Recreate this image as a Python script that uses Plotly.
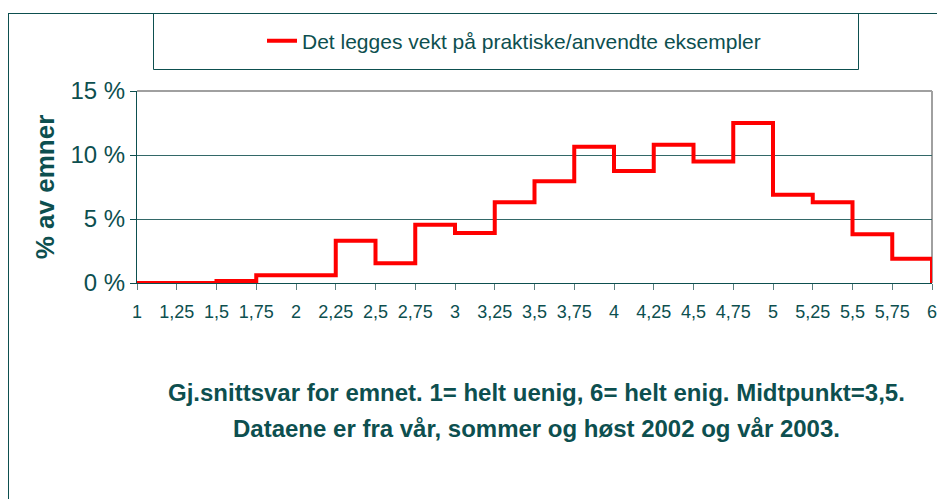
import plotly.graph_objects as go

# average score per subject, bin starts (1-6 scale) and share of subjects in %
bin_start = [1, 1.25, 1.5, 1.75, 2, 2.25, 2.5, 2.75, 3, 3.25,
             3.5, 3.75, 4, 4.25, 4.5, 4.75, 5, 5.25, 5.5, 5.75]
pct = [0, 0, 0.15, 0.6, 0.6, 3.3, 1.55, 4.55, 3.9, 6.3,
       7.95, 10.65, 8.75, 10.8, 9.5, 12.5, 6.9, 6.3, 3.8, 1.9]
x_end = 6

series_name = "Det legges vekt på praktiske/anvendte eksempler"
y_title = "% av emner"
note_lines = ["Gj.snittsvar for emnet. 1= helt uenig, 6= helt enig. Midtpunkt=3,5.",
              "Dataene er fra vår, sommer og høst 2002 og vår 2003."]

TEAL = "#0d4f4f"
GRID = "#336868"
FONT = "Liberation Sans, Arial"

W, H = 937, 499
L, R, T, B = 137, 5, 91, 216
pw, ph = W - L - R, H - T - B


def px(x):  # pixel -> paper x
    return (x - L) / pw


def py(y):  # pixel -> paper y
    return (H - B - y) / ph


fig = go.Figure()
fig.add_trace(go.Scatter(
    x=bin_start + [x_end], y=pct + [0],
    mode="lines", line=dict(color="#ff0000", width=4, shape="hv"),
    name=series_name, showlegend=True, cliponaxis=False,
))

fig.update_layout(
    width=W, height=H,
    margin=dict(l=L, r=R, t=T, b=B, autoexpand=False),
    paper_bgcolor="white", plot_bgcolor="white",
    separators=", ",
    showlegend=True,
    legend=dict(
        x=px(262), y=py(41), xanchor="left", yanchor="middle",
        orientation="h", bgcolor="rgba(0,0,0,0)",
        font=dict(family=FONT, size=21, color=TEAL),
    ),
    xaxis=dict(
        range=[1, 6], dtick=0.25, tick0=1,
        showgrid=False, zeroline=False,
        showline=True, linecolor=TEAL, linewidth=1,
        ticks="outside", ticklen=6, tickcolor="#5a8080",
        ticklabelstandoff=6, ticklabeloverflow="allow",
        tickfont=dict(family=FONT, size=18, color=TEAL),
    ),
    yaxis=dict(
        range=[0, 15], dtick=5, ticksuffix=" %",
        showgrid=True, gridcolor=GRID, gridwidth=1, zeroline=False,
        showline=True, linecolor=TEAL, linewidth=1,
        ticks="outside", ticklen=6, tickcolor=TEAL,
        tickfont=dict(family=FONT, size=24, color=TEAL),
        title=dict(text=y_title, standoff=8,
                   font=dict(family=FONT, size=26, color=TEAL, weight="bold")),
    ),
    shapes=[
        # plot frame top/right in grey
        dict(type="line", xref="paper", yref="paper", x0=0, x1=1, y0=1, y1=1,
             line=dict(color="#a0a0a0", width=2)),
        dict(type="line", xref="paper", yref="paper", x0=1, x1=1, y0=0, y1=1,
             line=dict(color="#a0a0a0", width=2), layer="below"),
        # outer chart border
        dict(type="line", xref="paper", yref="paper", x0=px(8.5), x1=px(8.5), y0=py(13), y1=py(505),
             line=dict(color=TEAL, width=1)),
        dict(type="line", xref="paper", yref="paper", x0=px(8), x1=px(945), y0=py(13.5), y1=py(13.5),
             line=dict(color=TEAL, width=1)),
        # legend box
        dict(type="rect", xref="paper", yref="paper", x0=px(153.5), x1=px(858.5), y0=py(13.5), y1=py(69.5),
             line=dict(color=TEAL, width=1)),
    ],
    annotations=[
        dict(text=t, xref="paper", yref="paper", x=px(536), y=py(yc),
             xanchor="center", yanchor="middle", showarrow=False,
             font=dict(family=FONT, size=24, color=TEAL, weight="bold"))
        for t, yc in zip(note_lines, [392, 428])
    ],
)

# drop the default 8px page margin so the figure fills the window exactly
fig.write_html("out.html", config={"displayModeBar": False},
               post_script="document.body.style.margin='0';document.body.style.overflow='hidden';")
